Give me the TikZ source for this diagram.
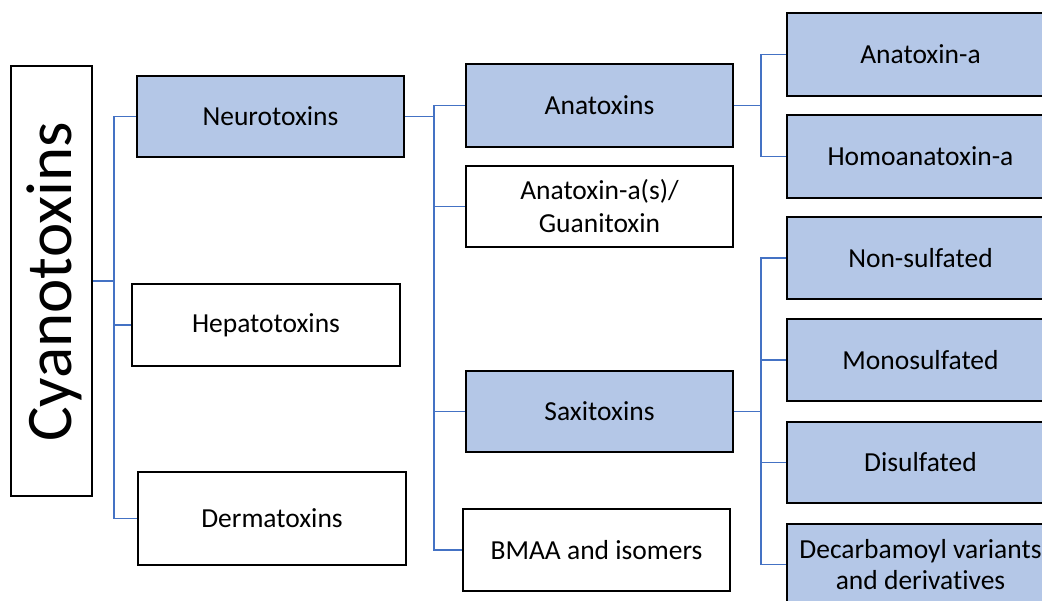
\documentclass[tikz,border=0pt]{standalone}
\usepackage{fontspec}
\setmainfont[Ligatures={NoCommon,NoDiscretionary,NoRare}]{Carlito}
\definecolor{boxblue}{HTML}{B4C7E7}
\definecolor{linkblue}{HTML}{4472C4}
\tikzset{
  box/.style={draw=black, line width=1.6pt, minimum width=267pt, minimum height=81pt, inner sep=0pt, align=center, font=\fontsize{27.5}{33}\selectfont},
  bluebox/.style={box, fill=boxblue},
  whitebox/.style={box, fill=white},
  conn/.style={draw=linkblue, line width=1.7pt}
}
\begin{document}
\begin{tikzpicture}[x=1pt, y=-1pt]
\useasboundingbox (0,0) rectangle (1042,601);
\clip (0,0) rectangle (1042,601);
% root
\node[draw=black, line width=1.6pt, fill=white, minimum width=81pt, minimum height=430pt, inner sep=0pt] (cyan) at (51.5,281) {};
\node[rotate=90, font=\fontsize{65}{78}\selectfont, inner sep=0pt] (cyant) at (54,282) {Cyanotoxins};
% level 1
\node[bluebox] (neuro) at (270.5,116.5) {Neurotoxins};
\node[whitebox, minimum width=268pt, minimum height=82pt] (hepa) at (266,325) {Hepatotoxins};
\node[whitebox, minimum width=268pt, minimum height=93pt] (derma) at (272,518.5) {Dermatoxins};
% level 2
\node[bluebox, minimum height=83pt] (ana) at (599.5,105.5) {Anatoxins};
\node[whitebox] (anas) at (599.5,206.5) {Anatoxin-a(s)/\\Guanitoxin};
\node[bluebox] (saxi) at (599.5,411.5) {Saxitoxins};
\node[whitebox, minimum height=82pt] (bmaa) at (596.5,550) {BMAA and isomers};
% level 3
\node[bluebox, minimum height=83pt] (anaa) at (920.5,54.5) {Anatoxin-a};
\node[bluebox, minimum height=83pt] (homo) at (920.5,156.5) {Homoanatoxin-a};
\node[bluebox, minimum height=82pt] (nons) at (920.5,258) {Non-sulfated};
\node[bluebox, minimum height=82pt] (mono) at (920.5,360) {Monosulfated};
\node[bluebox] (dis) at (920.5,462.5) {Disulfated};
\node[bluebox, font=\fontsize{27.5}{30.5}\selectfont] (decarb) at (920.5,564.5) {Decarbamoyl variants\\and derivatives};
% junctions
\coordinate (j1) at (114,281);
\coordinate (j2) at (434,116.5);
\coordinate (j3) at (761,105.5);
\coordinate (j4) at (761,411.5);
% connectors
\draw[conn] (cyan.east) -- (j1);
\draw[conn] (j1) |- (neuro.west);
\draw[conn] (j1) |- (hepa.west);
\draw[conn] (j1) |- (derma.west);
\draw[conn] (neuro.east) -- (j2);
\draw[conn] (j2) |- (ana.west);
\draw[conn] (j2) |- (anas.west);
\draw[conn] (j2) |- (saxi.west);
\draw[conn] (j2) |- (bmaa.west);
\draw[conn] (ana.east) -- (j3);
\draw[conn] (j3) |- (anaa.west);
\draw[conn] (j3) |- (homo.west);
\draw[conn] (saxi.east) -- (j4);
\draw[conn] (j4) |- (nons.west);
\draw[conn] (j4) |- (mono.west);
\draw[conn] (j4) |- (dis.west);
\draw[conn] (j4) |- (decarb.west);
\end{tikzpicture}
\end{document}
